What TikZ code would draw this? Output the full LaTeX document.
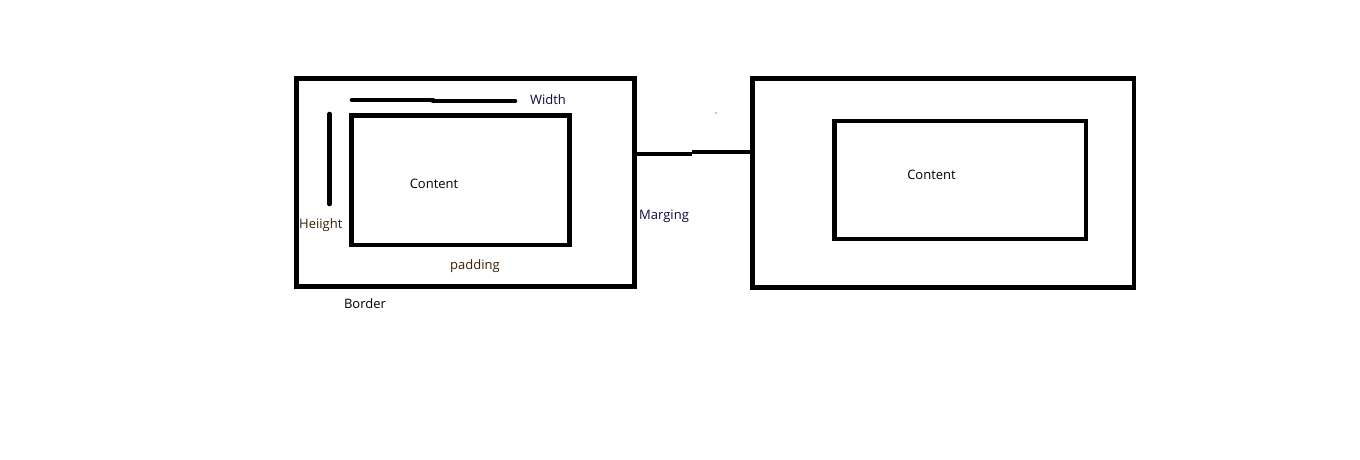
\documentclass[tikz,border=0pt]{standalone}
\usepackage{fontspec}
\setmainfont{Open Sans}
\usetikzlibrary{positioning}
\definecolor{labelblue}{HTML}{0C0C3C}
\definecolor{labelbrown}{HTML}{3A1E00}

\begin{document}
\begin{tikzpicture}[x=1pt, y=-1pt,
        box/.style={rectangle, draw=black, line width=4.6pt, inner sep=0pt},
        bar/.style={line width=4.6pt, line cap=round},
        lbl/.style={inner sep=0pt, font=\fontsize{13}{15}\selectfont}]
      \useasboundingbox (0,0) rectangle (1360,460);
      % Left element: border box and content box
      \node[box, minimum width=338pt, minimum height=208pt] (outerA) at (465.5,182.5) {};
      \node[box, minimum width=218pt, minimum height=129.5pt] (innerA) at (460.3,180.2) {};
      \node[lbl] (contentA) at (434,183.5) {Content};
      
      % Width and height bars
      \draw[bar] (352,100) -- (433,100);
      \draw[bar] (433,101) -- (515,101);
      \draw[bar] (329.5,114) -- (329.5,204);
      \node[lbl, text=labelblue] (width) at (548,99.5) {Width};
      \node[lbl, text=labelbrown, anchor=west] (height) at (299,225.5) {Heiight};
      \node[lbl, text=labelbrown] (padding) at (475,266.5) {padding};
      \node[lbl] (border) at (365,303.5) {Border};
      
      % Right element
      \node[box, minimum width=381.7pt, minimum height=209pt] (outerB) at (943.2,183) {};
      \node[box, minimum width=251.5pt, minimum height=118.2pt] (innerB) at (960.3,179.9) {};
      \node[lbl] (contentB) at (931.5,174.5) {Content};
      
      % Margin between the two
      \coordinate (mgl) at (692,154);
      \coordinate (mgr) at (692,152);
      \draw[line width=4.4pt] (mgl -| outerA.east) -- (mgl);
      \draw[line width=4.4pt] (mgr) -- (mgr -| outerB.west);
      \node[lbl, text=labelblue, anchor=west] (margin) at (639,216.5) {Marging};
      \fill (716,113) circle (0.7pt);
    \end{tikzpicture}
\end{document}
